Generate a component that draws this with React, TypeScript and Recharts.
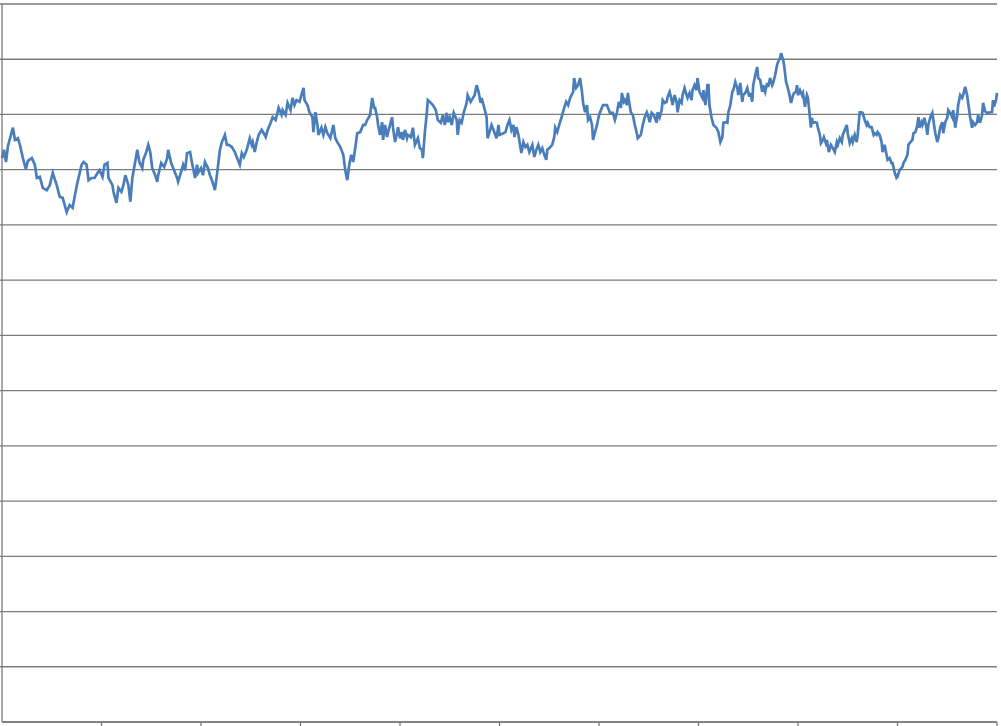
import React from 'react';
import { LineChart, Line, XAxis, YAxis, CartesianGrid } from 'recharts';

// x positions (sample index, 0..1000) of the traced points
const days = [
  0, 2, 4, 6, 9, 11, 13, 16, 18, 21, 24, 26, 30, 33, 35, 38, 41, 45, 48, 51, 55, 58, 61, 65, 68, 71, 73, 76, 80, 82, 85, 87, 90, 93, 96, 98,
  101, 103, 106, 107, 111, 112, 115, 117, 120, 122,
  124, 127, 129, 131, 136, 138, 141, 142, 145, 147, 149, 151, 154, 156, 157, 160, 163, 166, 167, 170, 172, 176, 177, 180, 182, 184, 186, 189,
  191, 192, 194, 196, 197, 200, 202, 204, 207, 209, 211, 214, 216, 219, 221, 224, 226, 228, 231, 234, 237, 239, 241, 243, 246, 248,
  249, 251, 252, 254, 256, 258, 261, 263, 265, 267, 270, 272, 275, 278, 281, 282, 285, 287, 290, 292, 294, 296, 299,
  303, 304, 307, 309, 312, 313, 315, 317, 318, 321, 323, 325, 327, 330, 333, 335, 337, 340, 343, 345, 347, 349, 351, 353, 355, 357, 360,
  363, 365, 367, 370, 372, 374,
  375, 377, 378, 380, 382, 383, 385, 387, 388, 390, 392, 393, 395, 397, 398, 400, 402, 403, 405, 407, 408, 411, 413, 415, 418, 420, 422,
  423, 425, 427, 428, 431, 433, 436, 438, 441, 443, 445, 447, 448, 450, 452, 454, 457, 458, 460, 462, 464, 467, 468, 471, 472, 475, 477,
  479, 481, 482, 484, 487, 488, 490, 492, 494, 497, 499,
  500, 504, 506, 508, 510, 512, 514, 515, 517, 519, 522, 524, 526, 528, 530, 533, 535, 537, 539, 541, 543, 545, 547, 548, 550, 553, 555,
  556, 558, 560, 563, 565, 567, 569, 571, 574, 575, 577, 579, 581, 583, 584, 586, 588, 589, 591, 593, 594, 596, 598, 600, 602, 604, 606,
  608, 609, 611, 614, 616, 618, 620, 622, 623, 625,
  626, 628, 629, 630, 632, 634, 636, 638, 639, 642, 644, 646, 648, 649, 651, 653, 655, 658, 659, 661, 663, 664, 666, 668, 669, 671, 673,
  674, 676, 678, 679, 681, 683, 684, 686, 688, 689, 691, 693, 694, 696, 698, 699, 701, 704, 705, 707, 709, 710, 711, 713, 715, 718, 720,
  722, 724, 725, 727, 729, 730, 732, 734, 735, 737, 739, 740, 742, 744, 745, 747, 749, 751,
  752, 754, 755, 757, 759, 760, 762, 764, 765, 767, 769, 770, 772, 774, 775, 777, 779, 780, 782, 783, 785, 786, 788, 789, 791, 793, 795,
  796, 798, 799, 800, 802, 804, 805, 807, 809, 810, 811, 813, 814, 815, 817, 819, 820, 822, 823, 825, 826, 828, 829, 831, 833, 835, 837,
  839, 840, 842, 844, 845, 847, 849, 850, 852, 854, 855, 857, 859, 860, 862, 864, 865, 867, 869, 870, 872, 874, 876,
  877, 879, 880, 882, 884, 885, 887, 889, 890, 892, 894, 895, 897, 899, 900, 902, 905, 906, 908, 910, 911, 913, 915, 916, 918, 920, 921,
  922, 924, 925, 927, 929, 930, 931, 933, 935, 936, 938, 940, 941, 943, 945, 946, 948, 950, 951, 953, 955, 956, 958, 960, 961, 963, 965,
  966, 968, 970, 971, 973, 975, 976, 978, 980, 981, 983, 985, 986, 988, 990, 991, 993, 995, 996, 997, 999, 1000,
];

// traced levels, one per entry of days
const levels = [
  10.21, 10.36, 10.14, 10.43, 10.63, 10.76, 10.54, 10.57, 10.45, 10.21, 10.01, 10.16, 10.21, 10.09, 9.85, 9.87, 9.67, 9.63, 9.72, 9.94,
  9.72, 9.51, 9.49, 9.23, 9.36, 9.31, 9.51, 9.78, 10.09, 10.14, 10.09, 9.81, 9.85, 9.85, 9.94, 9.99,
  9.87, 10.09, 10.12, 9.85, 9.72, 9.6, 9.4, 9.67, 9.6, 9.72,
  9.9, 9.72, 9.42, 9.85, 10.36, 10.14, 10.03, 10.18, 10.32, 10.45, 10.32, 10.03, 9.9, 9.78, 9.9, 10.12, 10.05, 10.21, 10.36, 10.12, 10.03,
  9.85, 9.78, 9.96, 10.09, 9.99, 10.3, 10.32,
  10.12, 10.03, 9.85, 10.09, 9.94, 10.03, 9.9, 10.14, 10.03, 9.9, 9.81, 9.63, 9.9, 10.36, 10.5, 10.63, 10.45, 10.45, 10.41, 10.32, 10.18,
  10.09, 10.3, 10.23, 10.36, 10.5,
  10.57, 10.45, 10.5, 10.32, 10.5, 10.63, 10.72, 10.66, 10.59, 10.72, 10.85, 10.95, 10.9, 11.12, 10.99, 11.08, 10.99, 11.21, 11.08, 11.3,
  11.17, 11.26, 11.23,
  11.48, 11.26, 11.17, 11.04, 10.95, 10.68, 11.04, 10.81, 10.63, 10.76, 10.63, 10.77, 10.66, 10.57, 10.81, 10.57, 10.5, 10.41, 10.27,
  9.99, 9.81, 10.09, 10.27, 10.14, 10.39, 10.66, 10.68,
  10.81, 10.81, 10.9, 10.99, 11.3, 11.12,
  11.12, 10.95, 10.81, 10.63, 10.86, 10.54, 10.81, 10.59, 10.68, 10.81, 10.95, 10.76, 10.5, 10.66, 10.77, 10.57, 10.68, 10.54, 10.72,
  10.57, 10.63, 10.59, 10.76, 10.45, 10.57, 10.39, 10.36,
  10.21, 10.68, 11.04, 11.26, 11.21, 11.17, 11.08, 10.9, 10.85, 10.99, 10.81, 11.03, 10.86, 10.95, 10.81, 11.03, 10.9, 10.63, 10.9, 10.85,
  11.03, 11.21, 11.35, 11.23, 11.26, 11.35, 11.53,
  11.41, 11.21, 11.3, 11.17, 10.95, 10.57, 10.68, 10.81, 10.72, 10.57, 10.81,
  10.63, 10.66, 10.68, 10.81, 10.9, 10.72, 10.81, 10.59, 10.77, 10.63, 10.3, 10.5, 10.41, 10.45, 10.32, 10.45, 10.23, 10.36, 10.45, 10.32,
  10.39, 10.27, 10.18, 10.36, 10.39, 10.45, 10.59,
  10.76, 10.68, 10.81, 10.99, 11.12, 11.23, 11.17, 11.3, 11.41, 11.66, 11.48, 11.53, 11.66, 11.39, 11.21, 11.04, 11.17, 10.9, 10.95,
  10.81, 10.54, 10.68, 10.81, 10.99, 11.08, 11.17, 11.17,
  11.17, 11.12, 11.03, 11.03, 10.9, 11.03, 11.23, 11.12, 11.39, 11.23,
  11.26, 11.17, 11.39, 11.26, 11.04, 10.99, 10.81, 10.66, 10.57, 10.63, 10.81, 10.95, 11.04, 10.99, 10.86, 11.03, 10.99, 10.85, 11.04,
  10.95, 11.08, 11.26, 11.21, 11.23, 11.32, 11.41, 11.26,
  11.17, 11.35, 11.23, 11.04, 11.26, 11.21, 11.35, 11.48, 11.35, 11.3, 11.39, 11.26, 11.44, 11.53, 11.44, 11.66, 11.41, 11.3, 11.44,
  11.17, 11.53, 11.53, 11.17, 10.95, 10.81, 10.76, 10.68,
  10.5, 10.59, 10.85, 10.86, 10.85, 11.04, 11.17, 11.41, 11.44, 11.59, 11.48, 11.35, 11.57, 11.23, 11.35, 11.39, 11.48, 11.32,
  11.39, 11.23, 11.53, 11.71, 11.86, 11.66, 11.62, 11.41, 11.53, 11.41, 11.57, 11.5, 11.66, 11.53, 11.57, 11.71, 11.9, 11.95, 12.02,
  12.11, 11.99, 11.9, 11.59, 11.53, 11.39, 11.21, 11.35,
  11.39, 11.41, 11.53, 11.35, 11.44, 11.35, 11.39, 11.14, 11.35, 11.3, 11.12, 10.76, 10.94, 10.85, 10.86, 10.85, 10.76, 10.63, 10.48,
  10.54, 10.59, 10.48, 10.54, 10.32, 10.45, 10.39, 10.32,
  10.5, 10.45, 10.57, 10.5, 10.63, 10.72, 10.81, 10.66, 10.48, 10.57, 10.5, 10.63, 10.5, 10.63, 11.04, 11.04, 11.03, 10.9, 10.81,
  10.85, 10.77, 10.77, 10.63,
  10.66, 10.63, 10.68, 10.63, 10.5, 10.32, 10.45, 10.27, 10.18, 10.21, 10.12, 10.12, 9.96, 9.85, 9.87, 9.99, 10.05, 10.12, 10.18, 10.27,
  10.45, 10.5, 10.54, 10.66, 10.68, 10.81, 10.95,
  10.76, 10.86, 10.81, 10.94, 10.77, 10.63, 10.81, 10.95, 11.03, 10.9, 10.66, 10.5, 10.57, 10.77, 10.86, 10.66, 10.86, 10.94, 11.08,
  11.03, 10.95, 11.08, 10.76, 10.99, 11.17, 11.35, 11.3, 11.35,
  11.5, 11.35, 11.21, 10.95, 10.76, 10.86, 10.81, 10.86, 10.99, 10.85, 10.99, 11.21, 11.06, 11.03, 11.03, 11.04, 11.04, 11.26, 11.14,
  11.26, 11.39,
];

const xTicks = [0, 100, 200, 300, 400, 500, 600, 700, 800, 900, 1000];
const yTicks = [0, 1, 2, 3, 4, 5, 6, 7, 8, 9, 10, 11, 12, 13];

const data = days.map((d, i) => ({ day: d, level: levels[i] }));

// the axes carry tick marks but no labels
const NoLabel = () => <g />;

const App: React.FC = () => {
  return (
    <div style={{ position: 'absolute', left: 0, top: 0, width: 1001, height: 726, background: '#fff' }}>
      <LineChart width={1001} height={726} data={data} margin={{ top: 4, right: 4, left: 0, bottom: 0 }}>
        <CartesianGrid vertical={false} stroke="#7b7b7b" strokeWidth={1.3} />
        <XAxis
          type="number"
          dataKey="day"
          domain={[0, 1000]}
          ticks={xTicks}
          tick={NoLabel}
          tickSize={4}
          height={4}
          stroke="#7b7b7b"
          strokeWidth={1.3}
        />
        <YAxis
          type="number"
          domain={[0, 13]}
          ticks={yTicks}
          tick={NoLabel}
          tickSize={2}
          width={2}
          stroke="#7b7b7b"
          strokeWidth={1.3}
        />
        <Line
          type="linear"
          dataKey="level"
          stroke="#4a7ebb"
          strokeWidth={2.7}
          dot={false}
          activeDot={false}
          isAnimationActive={false}
        />
      </LineChart>
    </div>
  );
};

export default App;
